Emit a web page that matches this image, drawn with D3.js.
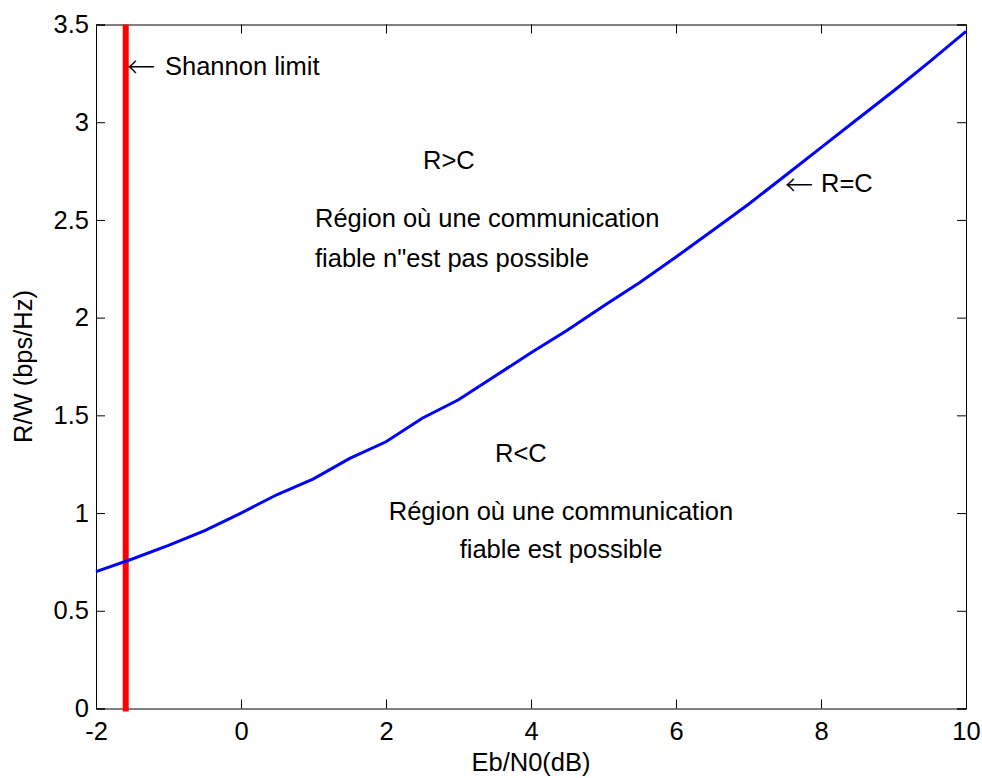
<!DOCTYPE html>
<html lang="fr">
<head>
    <meta charset="UTF-8">
    <title>Limite de Shannon</title>
    <script src="https://d3js.org/d3.v7.min.js"></script>
    <style>
        body {
            margin: 0;
            background: #fff;
        }
        text {
            font-family: "Liberation Sans", Arial, sans-serif;
            font-size: 25.5px;
            fill: #000;
        }
        .axis text {
            font-size: 25.5px;
        }
        .axis path, .axis line {
            stroke: #000;
        }
        .arrow {
            font-family: "Noto Sans CJK JP", "DejaVu Sans", sans-serif;
            font-size: 28px;
            font-weight: 300;
        }
    </style>
</head>
<body>
    <svg id="chart"></svg>

    <script>
        // Données
        const ebn0 = [-2, -1.5, -1, -0.5, 0, 0.5, 1, 1.5, 2, 2.5, 3, 3.5, 4, 4.5, 5, 5.5, 6, 6.5, 7, 7.5, 8, 8.5, 9, 9.5, 10];
        const rw = [0.70, 0.765, 0.835, 0.91, 1.00, 1.095, 1.175, 1.28, 1.365, 1.485, 1.58, 1.70, 1.82, 1.935, 2.06, 2.18, 2.31, 2.445, 2.58, 2.725, 2.87, 3.015, 3.16, 3.31, 3.465];
        const shannonX = -1.59;
        const shannonY = [0, 3.5];
        const xTicks = [-2, 0, 2, 4, 6, 8, 10];
        const yTicks = [0, 0.5, 1, 1.5, 2, 2.5, 3, 3.5];

        const width = 982, height = 778;
        const margin = {top: 24.5, right: 16, bottom: 69.5, left: 96};

        const svg = d3.select("#chart")
            .attr("width", width)
            .attr("height", height);

        const x = d3.scaleLinear().domain([-2, 10]).range([margin.left, width - margin.right]);
        const y = d3.scaleLinear().domain([0, 3.5]).range([height - margin.bottom, margin.top]);

        const tickLen = 9;
        const fmt = d => String(d);

        // Axes (ticks vers l'intérieur, style MATLAB)
        svg.append("g")
            .attr("class", "axis")
            .attr("transform", `translate(0,${y(0)})`)
            .call(d3.axisBottom(x).tickValues(xTicks).tickSize(-tickLen).tickPadding(13).tickFormat(fmt));

        svg.append("g")
            .attr("class", "axis")
            .attr("transform", `translate(${x(-2)},0)`)
            .call(d3.axisLeft(y).tickValues(yTicks).tickSize(-tickLen).tickPadding(7).tickFormat(fmt));

        svg.append("g")
            .attr("class", "axis")
            .attr("transform", `translate(0,${y(3.5)})`)
            .call(d3.axisTop(x).tickValues(xTicks).tickSize(-tickLen).tickFormat(""));

        svg.append("g")
            .attr("class", "axis")
            .attr("transform", `translate(${x(10)},0)`)
            .call(d3.axisRight(y).tickValues(yTicks).tickSize(-tickLen).tickFormat(""));

        // Limite de Shannon
        svg.append("line")
            .attr("x1", x(shannonX))
            .attr("x2", x(shannonX))
            .attr("y1", y(shannonY[0]) + 3)
            .attr("y2", y(shannonY[1]))
            .attr("stroke", "#ff0000")
            .attr("stroke-width", 6);

        // Courbe R = C
        const line = d3.line()
            .x((d, i) => x(ebn0[i]))
            .y(d => y(d));

        svg.append("path")
            .datum(rw)
            .attr("fill", "none")
            .attr("stroke", "#0000ff")
            .attr("stroke-width", 3)
            .attr("d", line);

        // Annotations
        svg.append("text").attr("class", "arrow")
            .attr("x", 127).attr("y", 78)
            .text("\u2190");
        svg.append("text")
            .attr("x", 165).attr("y", 75)
            .text("Shannon limit");

        svg.append("text").attr("class", "arrow")
            .attr("x", 785).attr("y", 196)
            .text("\u2190");
        svg.append("text")
            .attr("x", 821).attr("y", 192)
            .text("R=C");

        svg.append("text")
            .attr("x", 423).attr("y", 169)
            .text("R>C");

        svg.append("text")
            .attr("x", 315).attr("y", 227)
            .text("Région où une communication");

        svg.append("text")
            .attr("x", 315).attr("y", 267)
            .text("fiable n\"est pas possible");

        svg.append("text")
            .attr("x", 495).attr("y", 462)
            .text("R<C");

        svg.append("text")
            .attr("x", 561).attr("y", 520)
            .attr("text-anchor", "middle")
            .text("Région où une communication");

        svg.append("text")
            .attr("x", 561).attr("y", 558)
            .attr("text-anchor", "middle")
            .text("fiable est possible");

        // Titres des axes
        svg.append("text")
            .attr("x", (x(-2) + x(10)) / 2)
            .attr("y", 771)
            .attr("text-anchor", "middle")
            .text("Eb/N0(dB)");

        svg.append("text")
            .attr("transform", `translate(32,${(y(0) + y(3.5)) / 2}) rotate(-90)`)
            .attr("text-anchor", "middle")
            .text("R/W (bps/Hz)");
    </script>
</body>
</html>
